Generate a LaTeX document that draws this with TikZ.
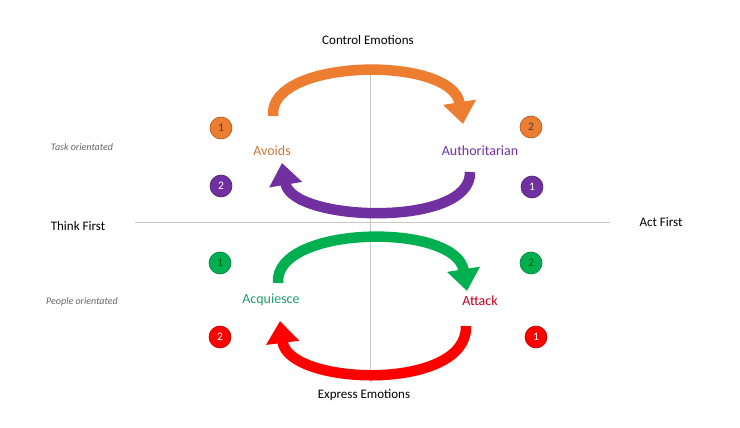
\documentclass[tikz,border=0pt]{standalone}
\usepackage{fontspec}
\setmainfont{Carlito}
\usetikzlibrary{arrows.meta}
\definecolor{cOr}{HTML}{ED7D31}
\definecolor{cPu}{HTML}{7030A0}
\definecolor{cGr}{HTML}{00B050}
\definecolor{cRe}{HTML}{FF0000}
\definecolor{tOr}{HTML}{C9783A}
\definecolor{tGr}{HTML}{1E9E6A}
\definecolor{tRe}{HTML}{C00020}
\definecolor{axisgray}{HTML}{C8C8C8}
\begin{document}
\begin{tikzpicture}[x=1pt,y=-1pt,
  axislbl/.style={font=\fontsize{13}{15}\selectfont, text=black},
  sidelbl/.style={font=\fontsize{10}{12}\selectfont\itshape, text=black!60},
  rolelbl/.style={font=\fontsize{14}{16}\selectfont},
  badge/.style={circle, minimum size=22pt, inner sep=0pt, draw=#1!70!black, fill=#1, line width=0.6pt, font=\fontsize{11.5}{13}\selectfont},
  bigarrow/.style={line width=10.5pt, draw=#1, -{Triangle[length=22pt,width=32pt]}},
  axisline/.style={draw=axisgray, line width=0.8pt}]
\useasboundingbox (0,0) rectangle (740,428);
% axes
\coordinate (hl) at (135,222);
\coordinate (hr) at (610,222);
\coordinate (vt) at (370,75);
\coordinate (vb) at (370,382);
\draw[axisline] (hl) -- (hr);
\draw[axisline] (vt) -- (vb);
% axis labels
\node[axislbl] (ce) at (368,40) {Control Emotions};
\node[axislbl] (ee) at (364,395) {Express Emotions};
\node[axislbl] (tf) at (78,226) {Think First};
\node[axislbl] (af) at (661,222) {Act First};
\node[sidelbl] (task) at (82,147) {Task orientated};
\node[sidelbl] (people) at (82,302) {People orientated};
% roles
\node[rolelbl, text=tOr] (avoids) at (272,151) {Avoids};
\node[rolelbl, text=cPu] (auth) at (480,151) {Authoritarian};
\node[rolelbl, text=tGr] (acq) at (271,300) {Acquiesce};
\node[rolelbl, text=tRe] (attack) at (480,301) {Attack};
% badges
\node[badge=cOr, text=black!75] (o1) at (221,128) {1};
\node[badge=cPu, text=white] (p2) at (221,186) {2};
\node[badge=cOr, text=black!75] (o2) at (531,127) {2};
\node[badge=cPu, text=white] (p1) at (532,187) {1};
\node[badge=cGr, text=black!60!green] (g1) at (220,263) {1};
\node[badge=cRe, text=white] (r2) at (220,337) {2};
\node[badge=cGr, text=black!60!green] (g2) at (531,263) {2};
\node[badge=cRe, text=white] (r1) at (536,337) {1};
% arrows
\coordinate (oT) at (273,116);
\coordinate (oH) at (463,124);
\coordinate (pT) at (470,172);
\coordinate (pH) at (282,163);
\coordinate (gT) at (278,283);
\coordinate (gH) at (467,291);
\coordinate (rT) at (466,326);
\coordinate (rH) at (280,321);
\draw[bigarrow=cOr] (oT) .. controls (268,58) and (452,55) .. (oH);
\draw[bigarrow=cPu] (pT) .. controls (472,228) and (292,222) .. (pH);
\draw[bigarrow=cGr] (gT) .. controls (274,225) and (456,222) .. (gH);
\draw[bigarrow=cRe] (rT) .. controls (468,392) and (288,386) .. (rH);
\end{tikzpicture}
\end{document}
